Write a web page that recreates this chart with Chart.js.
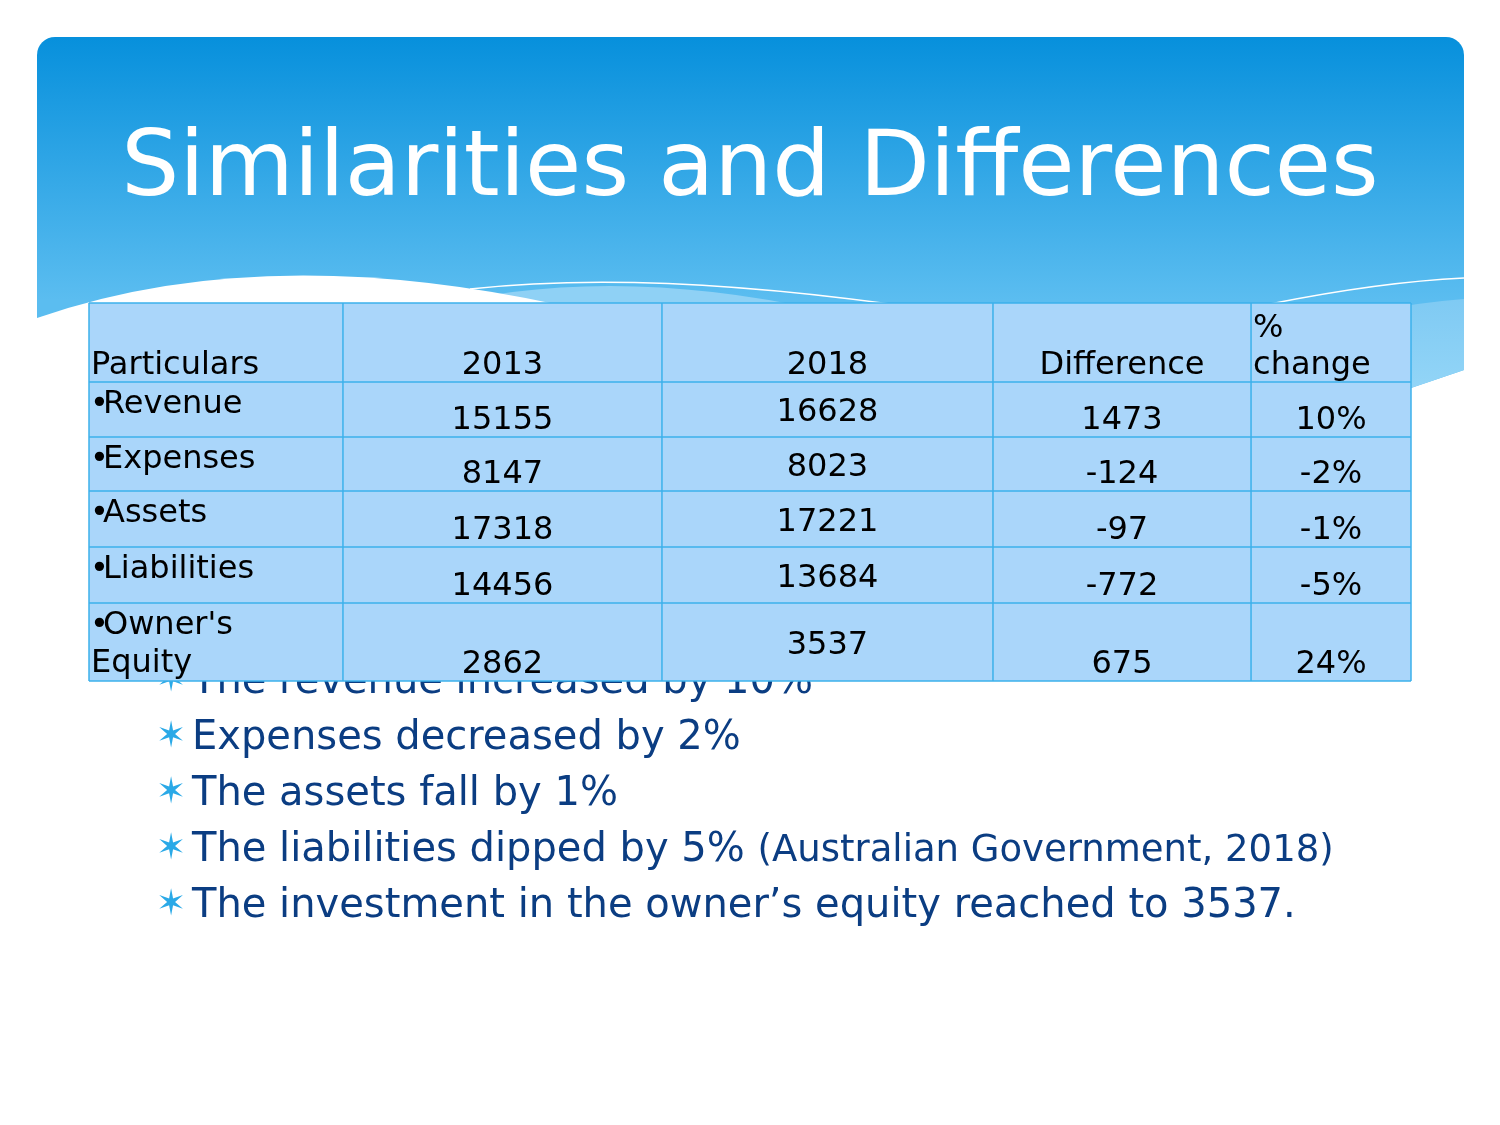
<!DOCTYPE html>
<html lang="en">
<head>
<meta charset="utf-8">
<title>Similarities and Differences</title>
<script src="https://cdn.jsdelivr.net/npm/chart.js@4.4.1/dist/chart.umd.min.js"></script>
<style>
    html, body { margin: 0; padding: 0; background: #ffffff; }
    body { width: 1500px; height: 1125px; position: relative; overflow: hidden; font-family: "DejaVu Sans", sans-serif; }
    #fondo, #tabla { position: absolute; left: 0; top: 0; }
    #fondo { z-index: 1; }
    #tabla { z-index: 3; pointer-events: none; }
    #titulo { position: absolute; left: 0; top: 118px; width: 1500px; text-align: center; color: #ffffff; font-size: 91.5px; line-height: 92px; white-space: nowrap; z-index: 2; }
    #puntos { position: absolute; left: 0; top: 651px; z-index: 2; color: #0b3d82; font-size: 40px; line-height: 56px; }
    .punto { position: relative; padding-left: 192px; white-space: nowrap; height: 56px; }
    .punto::before { content: "\2736"; position: absolute; left: 156px; top: 0; color: #2aa9e7; font-size: 36px; line-height: 56px; }
    .punto small { font-size: 37px; }
</style>
</head>
<body>
<canvas id="fondo" width="1500" height="1125"></canvas>
<div id="titulo">Similarities and Differences</div>
<div id="puntos">
    <div class="punto">The revenue increased by 10%</div>
    <div class="punto">Expenses decreased by 2%</div>
    <div class="punto">The assets fall by 1%</div>
    <div class="punto">The liabilities dipped by 5% <small>(Australian Government, 2018)</small></div>
    <div class="punto">The investment in the owner’s equity reached to 3537.</div>
</div>
<canvas id="tabla" width="1500" height="1125"></canvas>
<script>
// Datos de la tabla
const encabezados = ['Particulars', '2013', '2018', 'Difference', '% change'];
const partidas = ['•Revenue', '•Expenses', '•Assets', '•Liabilities', "•Owner's Equity"];
const valores2013 = [15155, 8147, 17318, 14456, 2862];
const valores2018 = [16628, 8023, 17221, 13684, 3537];
const diferencias = [1473, -124, -97, -772, 675];
const cambioPct = ['10%', '-2%', '-1%', '-5%', '24%'];

// Bordes de columnas y filas en unidades de la escala (0 a 100)
const bordesCol = [0, 19.21, 43.34, 68.38, 87.90, 100];
const bordesFila = [0, 20.9, 35.45, 49.74, 64.55, 79.37, 100];

const fuenteTabla = '32px "DejaVu Sans"';
const altoLinea = 37.5;

// Fondo de la diapositiva: cabecera azul con ondas
function dibujarFondo() {
    const g = document.getElementById('fondo').getContext('2d');

    // Cabecera con degradado
    const grad = g.createLinearGradient(0, 37, 0, 300);
    grad.addColorStop(0, '#0790dc');
    grad.addColorStop(1, '#5bbdf0');
    g.fillStyle = grad;
    g.beginPath();
    g.moveTo(37, 420);
    g.lineTo(37, 55);
    g.arcTo(37, 37, 55, 37, 18);
    g.lineTo(1446, 37);
    g.arcTo(1464, 37, 1464, 55, 18);
    g.lineTo(1464, 370);
    g.lineTo(1411, 388);
    g.lineTo(1000, 450);
    g.lineTo(37, 450);
    g.closePath();
    g.fill();

    // Onda clara a la derecha
    const gradClaro = g.createLinearGradient(0, 300, 0, 390);
    gradClaro.addColorStop(0, '#7fcaf3');
    gradClaro.addColorStop(1, '#93d5f7');
    g.fillStyle = gradClaro;
    g.beginPath();
    g.moveTo(1250, 340);
    g.quadraticCurveTo(1380, 305, 1464, 299);
    g.lineTo(1464, 370);
    g.lineTo(1411, 388);
    g.lineTo(1250, 440);
    g.closePath();
    g.fill();

    // Onda clara al centro
    g.fillStyle = '#8fd1f5';
    g.beginPath();
    g.moveTo(420, 310);
    g.quadraticCurveTo(600, 262, 820, 310);
    g.closePath();
    g.fill();

    // Onda blanca a la izquierda
    g.fillStyle = '#ffffff';
    g.beginPath();
    g.moveTo(37, 318);
    g.quadraticCurveTo(260, 240, 560, 305);
    g.lineTo(560, 460);
    g.lineTo(37, 460);
    g.closePath();
    g.fill();

    // Lineas blancas finas
    g.strokeStyle = '#ffffff';
    g.lineWidth = 1.5;
    g.beginPath();
    g.moveTo(470, 289);
    g.quadraticCurveTo(640, 270, 890, 304);
    g.stroke();
    g.beginPath();
    g.moveTo(1270, 304);
    g.quadraticCurveTo(1380, 282, 1464, 278);
    g.stroke();
}

// Partir texto en lineas segun el ancho de la celda
function partirTexto(ctx, texto, ancho) {
    const palabras = String(texto).split(' ');
    const lineas = [];
    let actual = '';
    palabras.forEach(p => {
        const prueba = actual ? actual + ' ' + p : p;
        if (actual && ctx.measureText(prueba).width > ancho) {
            lineas.push(actual);
            actual = p;
        } else {
            actual = prueba;
        }
    });
    lineas.push(actual);
    return lineas;
}

// Escribir una linea; la viñeta va pegada al texto como en la diapositiva
function escribirLinea(ctx, linea, px, py) {
    if (linea.startsWith('•') && ctx.textAlign === 'left') {
        ctx.fillText('•', px - 1, py);
        ctx.fillText(linea.slice(1), px + 12, py);
    } else {
        ctx.fillText(linea, px, py);
    }
}

// Plugin que dibuja la tabla usando las escalas del grafico
const tablaPlugin = {
    id: 'tablaPlugin',
    afterDraw(chart) {
        const { ctx, scales: { x, y } } = chart;
        const filas = [encabezados].concat(
            partidas.map((p, i) => [p, valores2013[i], valores2018[i], diferencias[i], cambioPct[i]])
        );
        const xs = bordesCol.map(v => x.getPixelForValue(v));
        const ys = bordesFila.map(v => y.getPixelForValue(v));

        ctx.save();
        // Celdas
        ctx.fillStyle = '#aad6fa';
        filas.forEach((fila, r) => {
            fila.forEach((_, c) => {
                ctx.fillRect(xs[c], ys[r], xs[c + 1] - xs[c], ys[r + 1] - ys[r]);
            });
        });

        // Bordes
        ctx.strokeStyle = '#3bb1eb';
        ctx.lineWidth = 1.5;
        ys.forEach(py => {
            ctx.beginPath();
            ctx.moveTo(xs[0], py);
            ctx.lineTo(xs[xs.length - 1], py);
            ctx.stroke();
        });
        xs.forEach(px => {
            ctx.beginPath();
            ctx.moveTo(px, ys[0]);
            ctx.lineTo(px, ys[ys.length - 1]);
            ctx.stroke();
        });

        // Textos
        ctx.font = fuenteTabla;
        ctx.fillStyle = '#000000';
        ctx.textBaseline = 'alphabetic';
        filas.forEach((fila, r) => {
            fila.forEach((texto, c) => {
                const x0 = xs[c], x1 = xs[c + 1];
                const y0 = ys[r], y1 = ys[r + 1];
                const lineas = partirTexto(ctx, texto, x1 - x0 - 4);

                // Alineacion horizontal
                const izquierda = c === 0 || (r === 0 && c === 4);
                ctx.textAlign = izquierda ? 'left' : 'center';
                const px = izquierda ? x0 + 2 : (x0 + x1) / 2;

                // Alineacion vertical
                let base;
                if (r > 0 && c === 0) {
                    base = y0 + 31;
                } else if (r > 0 && c === 2) {
                    base = (y0 + y1) / 2 + 11.5 - (lineas.length - 1) * altoLinea / 2;
                } else {
                    base = y1 - 8 - (lineas.length - 1) * altoLinea;
                }
                lineas.forEach((l, i) => escribirLinea(ctx, l, px, base + i * altoLinea));
            });
        });
        ctx.restore();
    }
};

dibujarFondo();

new Chart(document.getElementById('tabla'), {
    type: 'scatter',
    data: { datasets: [] },
    options: {
        responsive: false,
        animation: false,
        devicePixelRatio: 1,
        layout: { padding: { left: 89, top: 303, right: 89, bottom: 444 } },
        scales: {
            x: { type: 'linear', min: 0, max: 100, display: false },
            y: { type: 'linear', min: 0, max: 100, reverse: true, display: false }
        },
        plugins: {
            legend: { display: false },
            tooltip: { enabled: false }
        }
    },
    plugins: [tablaPlugin]
});
</script>
</body>
</html>
